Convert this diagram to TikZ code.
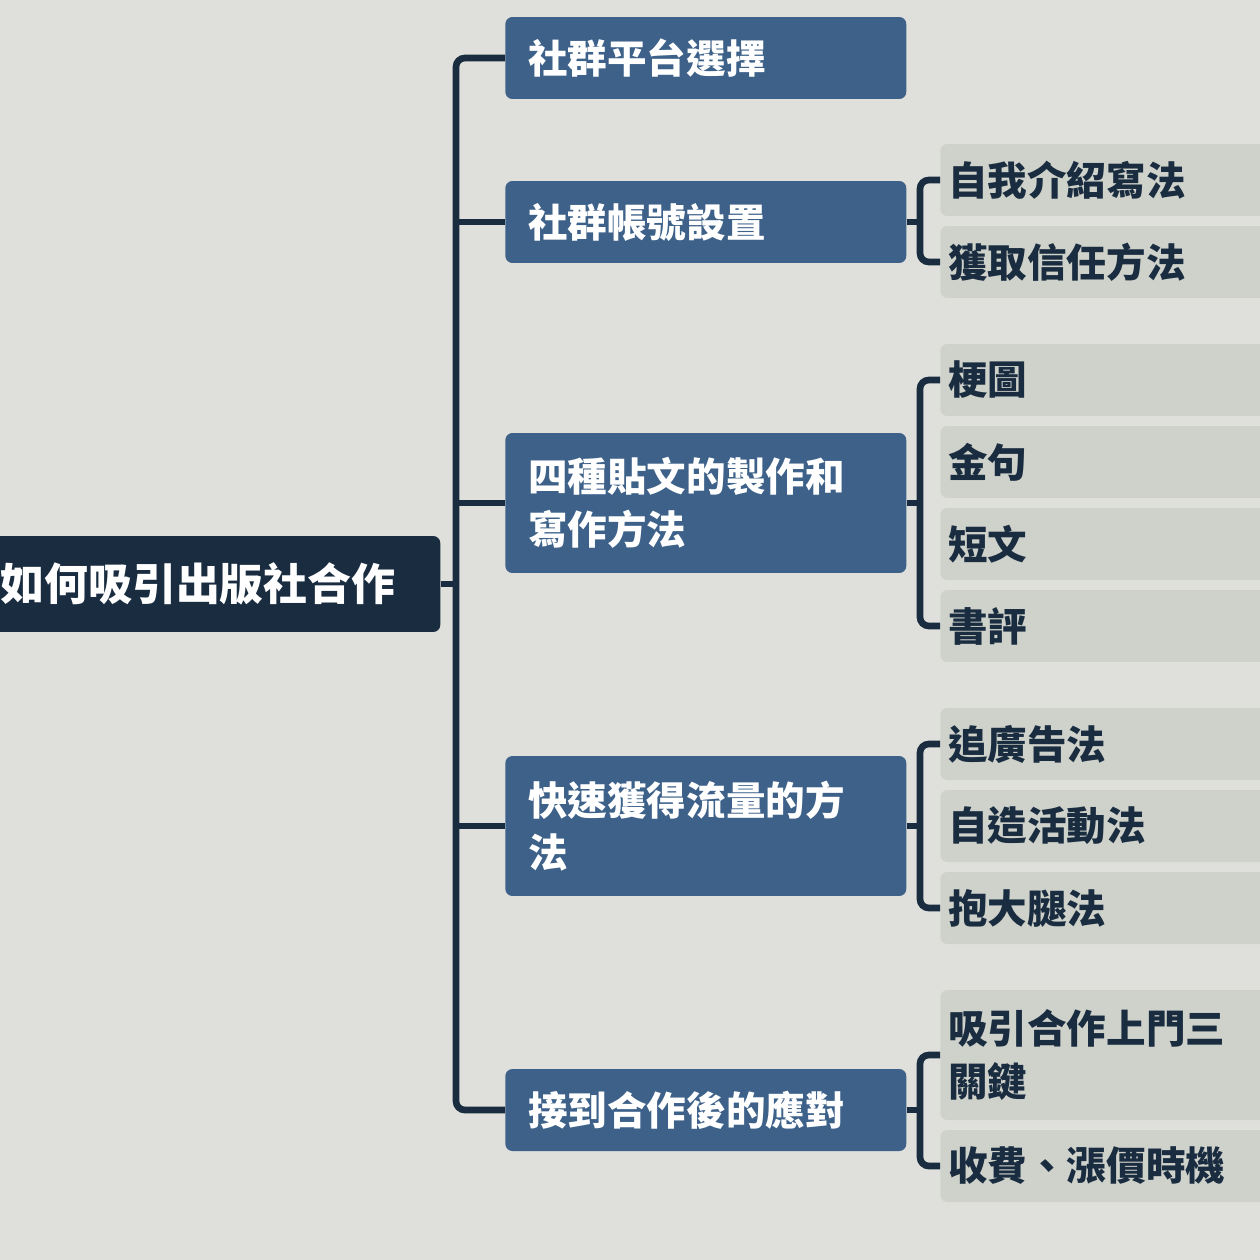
\documentclass[tikz,border=0pt]{standalone}
\usepackage{fontspec}
\setmainfont{Noto Sans CJK TC}
\definecolor{bg}{HTML}{DFE0DC}
\definecolor{dk}{HTML}{1A2D40}
\definecolor{md}{HTML}{3D6189}
\definecolor{lt}{HTML}{CFD1CB}
\tikzset{
 rootbox/.style={fill=dk,rounded corners=4pt,text=white,anchor=west,minimum height=1.92cm,text width=8.6cm,inner xsep=0.2cm,align=left,font=\fontsize{25}{30}\selectfont\bfseries},
 lone/.style={fill=md,rounded corners=4pt,text=white,anchor=west,text width=7.1cm,inner xsep=0.46cm,align=left,font=\fontsize{22.5}{30}\selectfont\bfseries},
 ltwo/.style={fill=lt,rounded corners=4pt,text=dk,anchor=west,text width=7cm,inner xsep=0.16cm,align=left,minimum height=1.44cm,font=\fontsize{22.5}{30}\selectfont\bfseries},
 conn/.style={draw=dk,line width=3.8pt,rounded corners=5pt},
}
\begin{document}
\begin{tikzpicture}[x=0.02cm,y=-0.02cm]
\useasboundingbox (0,0) rectangle (1260,1260);
\clip (0,0) rectangle (1260,1260);
\fill[bg] (0,0) rectangle (1260,1260);
\node[rootbox] (r) at (-10,584) {如何吸引出版社合作};
\node[lone,minimum height=1.64cm] (a) at (505,58) {社群平台選擇};
\node[lone,minimum height=1.64cm] (b) at (505,222) {社群帳號設置};
\node[lone,minimum height=2.8cm] (c) at (505,503) {四種貼文的製作和\\寫作方法};
\node[lone,minimum height=2.8cm] (d) at (505,826) {快速獲得流量的方\\法};
\node[lone,minimum height=1.64cm] (e) at (505,1110) {接到合作後的應對};
\node[ltwo] (b1) at (940,180) {自我介紹寫法};
\node[ltwo] (b2) at (940,262) {獲取信任方法};
\node[ltwo] (c1) at (940,380) {梗圖};
\node[ltwo] (c2) at (940,462) {金句};
\node[ltwo] (c3) at (940,544) {短文};
\node[ltwo] (c4) at (940,626) {書評};
\node[ltwo] (d1) at (940,744) {追廣告法};
\node[ltwo] (d2) at (940,826) {自造活動法};
\node[ltwo] (d3) at (940,908) {抱大腿法};
\node[ltwo,minimum height=2.6cm,text width=8cm] (e1) at (940,1055) {吸引合作上門三\\關鍵};
\node[ltwo,text width=8cm] (e2) at (940,1166) {收費、漲價時機};
% trunk
\draw[conn,rounded corners=0] (r.east) -- (456,584);
\draw[conn] (a.west) -- (456,58) -- (456,1110) -- (e.west);
\foreach \n in {b,c,d} \draw[conn,rounded corners=0] (456,0 |- \n.west) -- (\n.west);
% brackets
\foreach \p/\f/\l in {b/b1/b2,c/c1/c4,d/d1/d3,e/e1/e2}{
 \draw[conn,rounded corners=0] (\p.east) -- ++(15,0);
 \draw[conn] (\f.west) -- ++(-20,0) |- (\l.west);
}
\end{tikzpicture}
\end{document}
